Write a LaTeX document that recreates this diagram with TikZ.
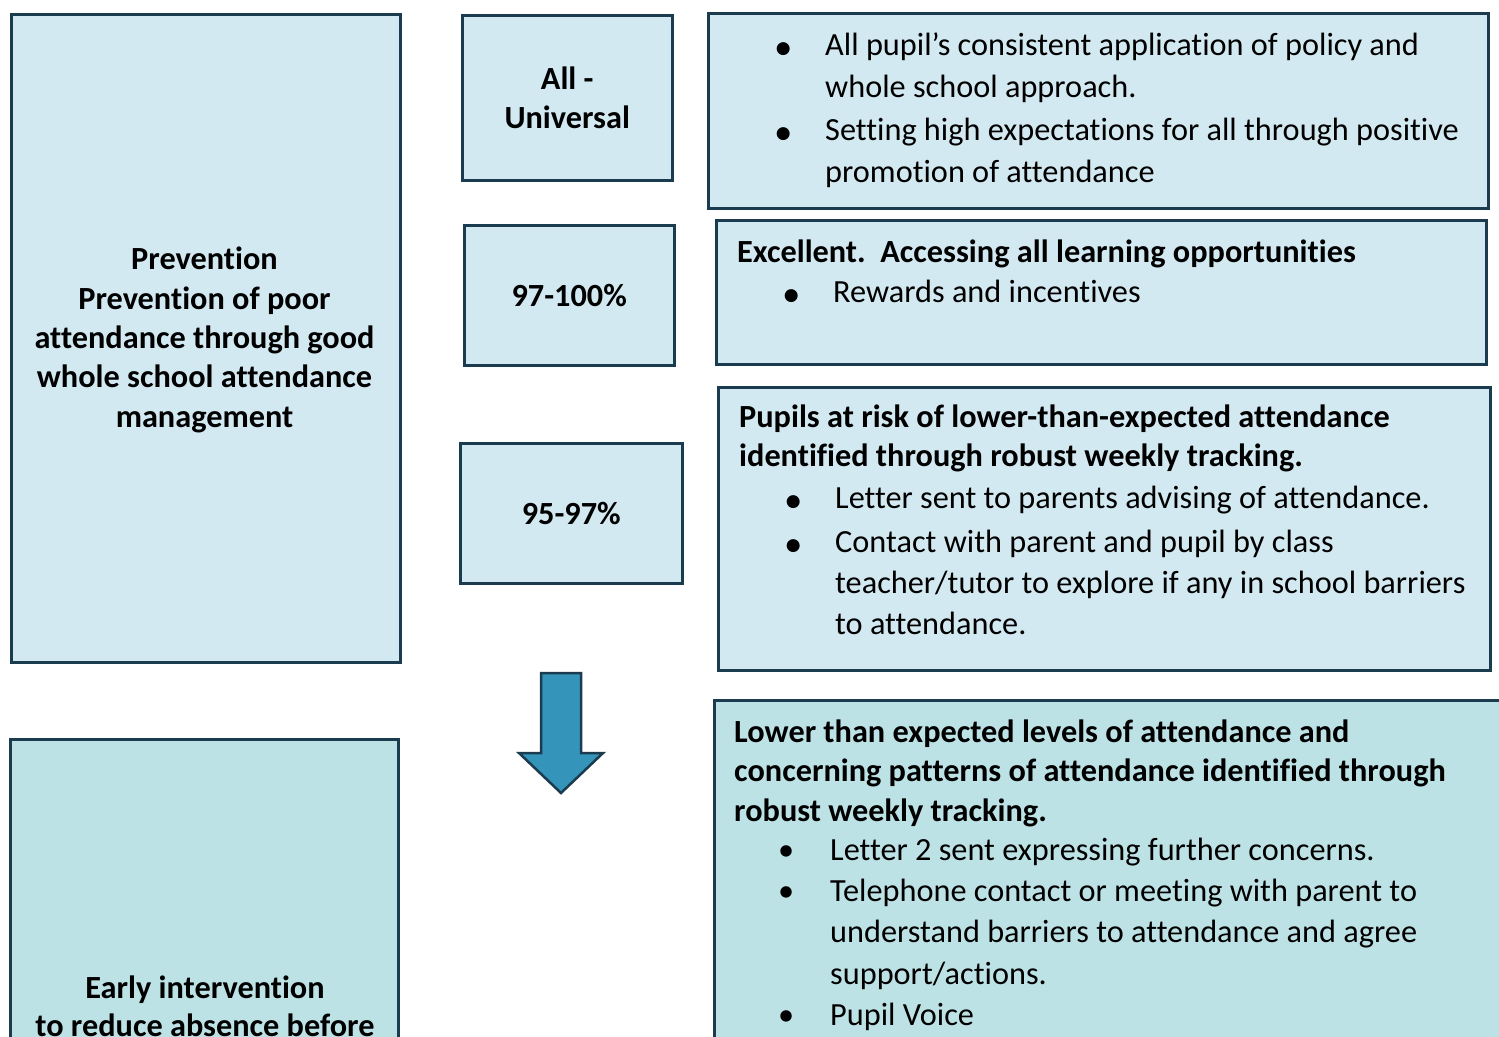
\documentclass[tikz,border=0pt]{standalone}
\usepackage{fontspec}
\setmainfont{Carlito}[Ligatures={NoCommon}]
\newfontfamily\dotfont{DejaVu Sans}
\usepackage{tikz}
\definecolor{boxline}{HTML}{1B3B4F}
\definecolor{palefill}{HTML}{D3E9F1}
\definecolor{tealfill}{HTML}{BDE2E6}
\definecolor{arrowblue}{HTML}{3594BA}
\tikzset{
    tierbox/.style={draw=boxline, line width=2.5pt, fill=palefill, anchor=north west, inner sep=0pt},
    tealbox/.style={tierbox, fill=tealfill},
    bandlabel/.style={font=\fontsize{32.3}{39.3}\selectfont\bfseries, align=center},
    boxtext/.style={anchor=base west, inner sep=0pt, align=left, font=\fontsize{32.3}{42}\selectfont}}
\newcommand{\bigdot}{\llap{\makebox[0pt]{\raisebox{2pt}{\dotfont\fontsize{17}{17}\selectfont ●}}\hspace{42pt}}}
\newcommand{\smalldot}{\llap{\makebox[0pt]{\textbullet}\hspace{44pt}}}

\begin{document}
\begin{tikzpicture}[x=1pt, y=-1pt]
    \useasboundingbox (0,0) rectangle (1499,1036);
    \clip (0,0) rectangle (1499,1036);

    % left column (base = last line)
    \node[tierbox, minimum width=389pt, minimum height=648pt] (prevbox) at (10,13) {};
    \node[bandlabel, anchor=base] (prevtext) at (204.5,427)
        {Prevention\\Prevention of poor\\attendance through good\\whole school attendance\\management};
    \node[tealbox, minimum width=388pt, minimum height=400pt] (earlybox) at (9,738) {};
    \node[bandlabel, anchor=base] (earlytext) at (205,1036)
        {Early intervention\\[-1.3pt]to reduce absence before};

    % bands
    \node[tierbox, bandlabel, minimum width=210pt, minimum height=165pt] (allbox) at (461,14) {All -\\Universal};
    \node[tierbox, bandlabel, minimum width=210pt, minimum height=140pt] (topbox) at (463,224) {97-100\%};
    \node[tierbox, bandlabel, minimum width=222pt, minimum height=140pt] (midbox) at (459,442) {95-97\%};

    \draw[draw=boxline, line width=2.5pt, fill=arrowblue, line join=miter]
        (541,673) -- (581,673) -- (581,753) -- (603,753) -- (561,793) -- (519,753) -- (541,753) -- cycle;

    % right column
    \node[tierbox, minimum width=780pt, minimum height=195pt] (policybox) at (707,12) {};
    \node[boxtext] (policytext) at (825,182)
        {\bigdot All pupil’s consistent application of policy and\\
         whole school approach.\\[1pt]
         \bigdot Setting high expectations for all through positive\\
         promotion of attendance};

    \node[tierbox, minimum width=770pt, minimum height=144pt] (rewardbox) at (715,219) {};
    \node[boxtext] (rewardtext) at (737,302)
        {\textbf{Excellent.\ \ Accessing all learning opportunities}\\[-2pt]
         \hspace*{96pt}\bigdot Rewards and incentives};

    \node[tierbox, minimum width=772pt, minimum height=283pt] (riskbox) at (717,386) {};
    \node[boxtext] (risktext) at (739,634)
        {\textbf{Pupils at risk of lower-than-expected attendance}\\[-3pt]
         \textbf{identified through robust weekly tracking.}\\
         \hspace*{96pt}\bigdot Letter sent to parents advising of attendance.\\[2pt]
         \hspace*{96pt}\bigdot Contact with parent and pupil by class\\[-1pt]
         \hspace*{96pt}teacher/tutor to explore if any in school barriers\\[-1pt]
         \hspace*{96pt}to attendance.};

    \node[tealbox, minimum width=800pt, minimum height=400pt] (concernbox) at (713,699) {};
    \node[boxtext] (concerntext) at (734,1025)
        {\textbf{Lower than expected levels of attendance and}\\[-3pt]
         \textbf{concerning patterns of attendance identified through}\\[-2pt]
         \textbf{robust weekly tracking.}\\[-3pt]
         \hspace*{96pt}\smalldot Letter 2 sent expressing further concerns.\\[-1pt]
         \hspace*{96pt}\smalldot Telephone contact or meeting with parent to\\[-1pt]
         \hspace*{96pt}understand barriers to attendance and agree\\
         \hspace*{96pt}support/actions.\\[-1pt]
         \hspace*{96pt}\smalldot Pupil Voice};
\end{tikzpicture}
\end{document}
